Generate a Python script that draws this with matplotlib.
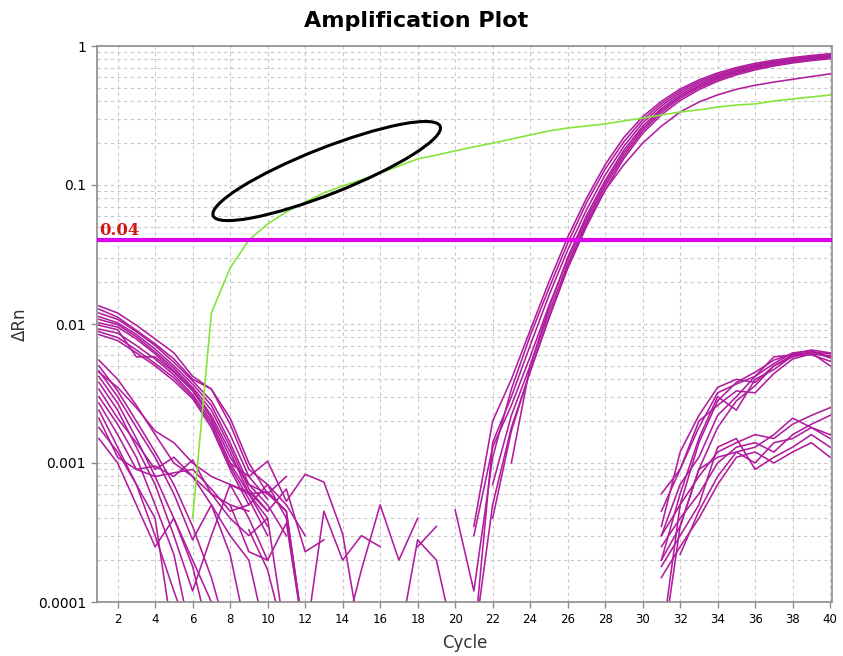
import numpy as np
import matplotlib
matplotlib.use("Agg")
import matplotlib.pyplot as plt
from matplotlib.patches import Ellipse
from matplotlib import transforms
from matplotlib.ticker import LogLocator, FixedLocator, FuncFormatter, NullFormatter

nan = np.nan

# ---------------- data ----------------
title = "Amplification Plot"
x_label = "Cycle"
y_label = "\u0394Rn"
threshold = 0.04
threshold_label = "0.04"
x_ticks = list(range(2, 41, 2))
y_ticks = [0.0001, 0.001, 0.01, 0.1, 1]
y_tick_labels = ["0.0001", "0.001", "0.01", "0.1", "1"]

# green (positive control) curve, cycles 6..40
green_cycles = list(range(6, 41))
green_values = [0.00040, 0.0120, 0.0253, 0.0402, 0.0524, 0.064, 0.0755, 0.0876,
                0.0984, 0.109, 0.122, 0.137, 0.154, 0.164, 0.176, 0.188, 0.200,
                0.214, 0.229, 0.245, 0.257, 0.266, 0.275, 0.289, 0.303, 0.319,
                0.335, 0.347, 0.364, 0.376, 0.383, 0.402, 0.416, 0.430, 0.444]

# early baseline curves, upper band, cycles 1..12
early_cycles = list(range(1, 13))
early_upper = [
    [0.0135, 0.0120, 0.0098, 0.0078, 0.0062, 0.0042, 0.0034, 0.0021, 0.0010, 0.0006, 0.00045, 0.00005],
    [0.0128, 0.0112, 0.0090, 0.0072, 0.0056, 0.0040, 0.0034, 0.0019, 0.0009, 0.0007, 0.0005, 0.0003],
    [0.0120, 0.0108, 0.0088, 0.0070, 0.0053, 0.0039, 0.0028, 0.0016, 0.0008, 0.00055, nan, nan],
    [0.0113, 0.0102, 0.0084, 0.0066, 0.0050, 0.0037, 0.0026, 0.0014, 0.0007, 0.0005, 0.0003, nan],
    [0.0108, 0.0099, 0.0081, 0.0063, 0.0048, 0.0035, 0.0024, 0.0013, 0.00065, 0.00045, nan, nan],
    [0.0102, 0.0095, 0.0078, 0.0061, 0.0046, 0.0034, 0.0022, 0.0012, 0.0006, 0.0004, 0.00005, nan],
    [0.0098, 0.0091, 0.0058, 0.0058, 0.0045, 0.0033, 0.0021, 0.0011, 0.0007, 0.0006, 0.0008, nan],
    [0.0092, 0.0086, 0.0070, 0.0056, 0.0043, 0.0031, 0.0020, 0.0010, 0.0006, 0.00035, nan, nan],
    [0.0088, 0.0080, 0.0065, 0.0052, 0.0041, 0.0030, 0.0019, 0.00095, 0.00055, 0.0003, nan, nan],
    [0.0084, 0.0076, 0.0062, 0.0050, 0.0039, 0.0029, 0.0018, 0.0009, 0.0005, nan, nan, nan],
]
# early baseline curves, lower band, cycles 1..12
early_lower = [
    [0.0055, 0.0040, 0.0026, 0.0016, 0.0010, 0.0008, 0.0006, 0.0005, 0.00045, nan, nan, nan],
    [0.0050, 0.0033, 0.0020, 0.0012, 0.0007, 0.00035, 0.00015, 0.00005, nan, nan, nan, nan],
    [0.0046, 0.0030, 0.0018, 0.0011, 0.0006, 0.00028, 0.0005, 0.00022, 0.00005, nan, nan, nan],
    [0.0042, 0.0027, 0.0015, 0.0008, 0.0004, 0.00018, 0.00005, nan, nan, nan, nan, nan],
    [0.0038, 0.0024, 0.0013, 0.0007, 0.0003, 0.00012, 0.0003, 0.0007, 0.0004, 0.0002, nan, nan],
    [0.0034, 0.0021, 0.0014, 0.0009, 0.0011, 0.0008, 0.0005, 0.0003, 0.0002, 0.00005, nan, nan],
    [0.0030, 0.0019, 0.0011, 0.0005, 0.00022, 0.00005, nan, nan, nan, nan, nan, nan],
    [0.0027, 0.0016, 0.0009, 0.00095, 0.0008, 0.00105, 0.0006, 0.0004, 0.0003, 0.0004, nan, nan],
    [0.0024, 0.0013, 0.0007, 0.0003, 0.00012, 0.00005, nan, nan, nan, nan, nan, nan],
    [0.0021, 0.0011, 0.0009, 0.0008, 0.00085, 0.0009, 0.00065, 0.00045, 0.0005, 0.0007, 0.0004, 0.00005],
    [0.0018, 0.0012, 0.0007, 0.0004, 0.00005, nan, nan, nan, nan, nan, nan, nan],
    [0.0015, 0.0010, 0.0005, 0.00025, 0.0004, 0.0002, 0.0001, 0.00005, nan, nan, nan, nan],
    [0.0045, 0.0035, 0.0025, 0.0017, 0.0014, 0.0010, 0.0008, 0.0007, 0.0006, 0.00062, 0.00045, 0.00005],
]

# mid-run noise fragments, cycles 8..22
noise_cycles = list(range(8, 23))
noise_curves = [
    [0.0010, 0.0008, 0.00103, 0.00053, 0.00083, 0.00073, 0.00031, 0.00005, nan, nan, nan, nan, nan, nan, nan],
    [0.0007, 0.00062, 0.00045, 0.00065, 0.00023, 0.00028, nan, nan, nan, nan, nan, nan, nan, nan, nan],
    [0.0005, 0.00023, 0.0002, 0.00037, 0.00005, nan, nan, nan, nan, nan, nan, nan, nan, nan, nan],
    [nan, 0.00033, 0.00017, 0.00005, nan, nan, nan, nan, nan, nan, nan, nan, nan, nan, nan],
    [nan, nan, nan, nan, 0.00005, 0.00045, 0.0002, 0.0003, 0.00025, nan, nan, nan, nan, nan, nan],
    [nan, nan, nan, nan, nan, nan, 0.00005, 0.00017, 0.0005, 0.0002, 0.0004, nan, nan, nan, nan],
    [nan, nan, nan, nan, nan, nan, nan, nan, nan, nan, 0.00025, 0.00035, nan, nan, nan],
    [nan, nan, nan, nan, nan, nan, nan, nan, nan, 0.00005, 0.00028, 0.0002, 0.00005, nan, nan],
]

# amplification curves, cycles 20..40
amp_cycles = list(range(20, 41))
amp_curves = [
    [nan, 0.00035, 0.0020, 0.0040, 0.0090, 0.020, 0.042, 0.080, 0.140, 0.220, 0.310, 0.400, 0.490, 0.570, 0.640, 0.700, 0.750, 0.790, 0.825, 0.855, 0.880],
    [0.00046, 0.00012, 0.0011, 0.0034, 0.0082, 0.018, 0.038, 0.074, 0.130, 0.205, 0.295, 0.385, 0.475, 0.555, 0.625, 0.685, 0.735, 0.775, 0.810, 0.840, 0.865],
    [nan, 0.00005, 0.0014, 0.0030, 0.0070, 0.016, 0.034, 0.066, 0.118, 0.190, 0.280, 0.370, 0.460, 0.540, 0.610, 0.670, 0.720, 0.765, 0.800, 0.830, 0.855],
    [nan, nan, nan, 0.0010, 0.0050, 0.013, 0.030, 0.060, 0.108, 0.178, 0.265, 0.355, 0.445, 0.525, 0.598, 0.660, 0.710, 0.752, 0.788, 0.818, 0.842],
    [nan, 0.00030, 0.0013, 0.0026, 0.0058, 0.0135, 0.029, 0.057, 0.103, 0.170, 0.255, 0.345, 0.432, 0.512, 0.585, 0.648, 0.700, 0.742, 0.778, 0.808, 0.832],
    [nan, nan, 0.0007, 0.0022, 0.0050, 0.012, 0.027, 0.054, 0.098, 0.162, 0.245, 0.333, 0.420, 0.500, 0.572, 0.635, 0.688, 0.732, 0.768, 0.798, 0.822],
    [nan, 0.00005, 0.0005, 0.0018, 0.0045, 0.011, 0.025, 0.050, 0.092, 0.155, 0.235, 0.320, 0.405, 0.485, 0.558, 0.620, 0.673, 0.718, 0.755, 0.785, 0.810],
    [nan, nan, 0.0004, 0.0017, 0.0046, 0.011, 0.026, 0.052, 0.092, 0.140, 0.200, 0.265, 0.335, 0.395, 0.445, 0.488, 0.522, 0.550, 0.576, 0.603, 0.630],
]

# late non-specific curves, cycles 31..40
late_cycles = list(range(31, 41))
late_curves = [
    [0.0006, 0.0009, 0.0018, 0.0032, 0.0037, 0.0042, 0.0052, 0.0062, 0.0064, 0.0058],
    [0.00035, 0.0012, 0.0022, 0.0035, 0.0040, 0.0038, 0.0050, 0.0060, 0.0063, 0.0061],
    [0.00005, 0.0005, 0.0014, 0.0028, 0.0038, 0.0045, 0.0055, 0.0061, 0.0065, 0.0062],
    [0.0003, 0.0007, 0.0011, 0.0022, 0.0030, 0.0042, 0.0058, 0.0060, 0.0062, 0.0050],
    [0.00004, 0.00035, 0.0009, 0.0018, 0.0028, 0.0036, 0.0050, 0.0058, 0.0063, 0.0057],
    [0.0002, 0.0006, 0.0015, 0.0030, 0.0024, 0.0040, 0.0047, 0.0059, 0.0060, 0.0054],
    [0.00045, 0.0009, 0.0020, 0.0026, 0.0033, 0.0032, 0.0044, 0.0056, 0.0061, 0.0059],
    [0.0003, 0.0005, 0.0008, 0.0012, 0.0014, 0.0016, 0.0015, 0.0019, 0.0022, 0.0025],
    [0.00025, 0.0004, 0.0006, 0.0010, 0.0013, 0.0014, 0.0012, 0.0016, 0.0019, 0.0022],
    [0.0002, 0.00035, 0.0009, 0.0011, 0.0012, 0.0010, 0.0014, 0.0015, 0.0018, 0.0016],
    [0.00018, 0.0003, 0.0005, 0.0013, 0.0015, 0.0009, 0.0011, 0.0013, 0.0016, 0.0013],
    [0.00015, 0.00025, 0.0004, 0.0007, 0.0011, 0.0012, 0.0010, 0.0012, 0.0014, 0.0011],
    [nan, 0.00022, 0.00045, 0.0008, 0.0012, 0.0013, 0.0016, 0.0021, 0.0018, 0.0015],
]

# highlight ellipse (annotation) centre in data coordinates
ellipse_center = (13.15, 0.126)

# ---------------- styling ----------------
PURPLE = "#B01C9E"
GREEN = "#84E43C"
THRESH = "#DD00EE"
GRID = "#C8C8C8"
SPINE = "#8C8C8C"

fig = plt.figure(figsize=(8.43, 6.56), dpi=100)
ax = fig.add_axes([97 / 843, 1 - 602 / 656, (832 - 97) / 843, (602 - 46) / 656])
ax.set_yscale("log")

lw = 1.15
for curve in early_upper + early_lower:
    ax.plot(early_cycles, curve, color=PURPLE, lw=lw)
for curve in noise_curves:
    ax.plot(noise_cycles, curve, color=PURPLE, lw=lw)
for curve in amp_curves:
    ax.plot(amp_cycles, curve, color=PURPLE, lw=lw)
for curve in late_curves:
    ax.plot(late_cycles, curve, color=PURPLE, lw=lw)

ax.plot(green_cycles, green_values, color=GREEN, lw=1.2, zorder=3)

ax.axhline(threshold, color=THRESH, lw=3.0, zorder=4)
ax.text(1.0, threshold * 1.015, threshold_label, color="#D01818", fontsize=12,
        fontweight="bold", family="DejaVu Serif", ha="left", va="bottom", zorder=5)

ax.set_xlim(0.9, 40.1)
ax.set_ylim(1e-4, 1)

ax.xaxis.set_major_locator(FixedLocator(x_ticks))
ax.set_xticklabels([str(t) for t in x_ticks], fontsize=8.5)
ax.yaxis.set_major_locator(FixedLocator(y_ticks))
ax.yaxis.set_major_formatter(FuncFormatter(lambda v, p: y_tick_labels[y_ticks.index(v)] if v in y_ticks else ""))
ax.yaxis.set_minor_locator(LogLocator(base=10, subs=np.arange(2, 10)))
ax.yaxis.set_minor_formatter(NullFormatter())
ax.tick_params(axis="y", which="major", length=4, width=1, color=SPINE, pad=4, labelsize=10)
ax.tick_params(axis="y", which="minor", length=0)
ax.tick_params(axis="x", which="major", length=4, width=1, color=SPINE, pad=4, labelsize=8.5)

ax.grid(True, axis="x", which="major", ls=(0, (3, 3)), color=GRID, lw=0.8)
ax.grid(True, axis="y", which="both", ls=(0, (3, 3)), color=GRID, lw=0.8)
ax.set_axisbelow(True)
for s in ax.spines.values():
    s.set_color(SPINE)
    s.set_linewidth(1.2)

ax.set_xlabel(x_label, fontsize=12, labelpad=6, color="#333333")
ax.set_ylabel(y_label, fontsize=12, labelpad=6, color="#333333")
fig.text(0.494, 0.968, title, fontsize=16, fontweight="bold", ha="center", va="center")

# highlight ellipse, fixed size in inches, anchored at a data point
etrans = fig.dpi_scale_trans + transforms.ScaledTranslation(ellipse_center[0], ellipse_center[1], ax.transData)
ell = Ellipse((0, 0), width=2.44, height=0.46, angle=21.5, fill=False, ec="black", lw=2.2,
              transform=etrans, zorder=6, clip_on=False)
ax.add_artist(ell)

fig.savefig("out.png", dpi=100)
